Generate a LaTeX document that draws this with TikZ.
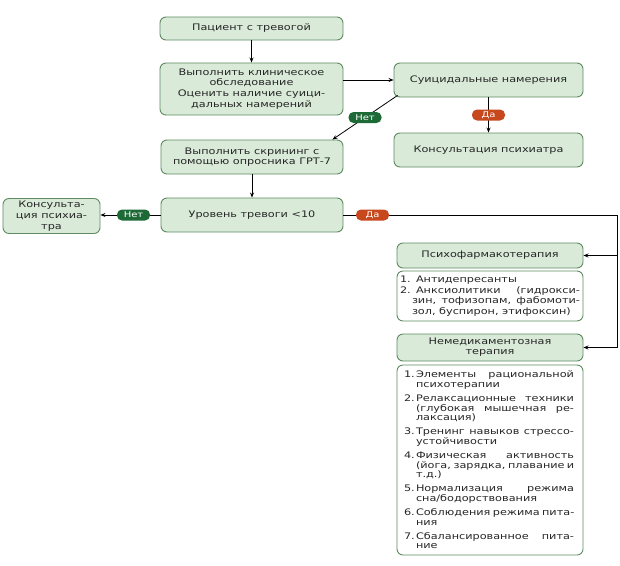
\documentclass[tikz,border=0pt]{standalone}
\usepackage{fontspec}
\setmainfont{DejaVu Sans}[FakeStretch=1.25]
\usetikzlibrary{arrows.meta,calc}
\definecolor{boxfill}{HTML}{D9EAD9}
\definecolor{boxline}{HTML}{5E8C60}
\definecolor{netgreen}{HTML}{1D6A36}
\definecolor{daorange}{HTML}{C8481E}
\definecolor{txt}{HTML}{262626}
\newcommand\NumL[5]{\makebox[#1][l]{#2}\makebox[#3][#4]{\spaceskip=0pt\xspaceskip=0pt #5}}
\begin{document}
\begin{tikzpicture}[x=1pt,y=-1pt,
  gbox/.style={draw=boxline,fill=boxfill,line width=0.9pt,rounded corners=6pt,
    align=center,text=txt,font=\fontsize{9}{10.2}\selectfont,inner sep=2pt},
  lbox/.style={draw=boxline,fill=white,line width=0.9pt,rounded corners=6pt,
    align=left,text=txt,inner ysep=2pt},
  pill/.style={rounded corners=5pt,text=white,font=\fontsize{8}{8}\selectfont,
    minimum width=33pt,minimum height=11pt,inner sep=1pt},
  net/.style={pill,fill=netgreen},
  da/.style={pill,fill=daorange},
  arr/.style={-{Stealth[length=5pt,width=4pt]},line width=0.8pt,black},
  ln/.style={line width=0.8pt,black}]
\useasboundingbox (0,0) rectangle (620,565);
\fill[white] (0,0) rectangle (620,565);

\node[gbox,minimum width=183pt,minimum height=23pt] (p) at (251.5,28.5) {Пациент с тревогой};
\node[gbox,minimum width=183pt,minimum height=52pt] (exam) at (251.5,89)
  {Выполнить клиническое\\обследование\\[1pt]Оценить наличие суици-\\дальных намерений};
\node[gbox,minimum width=189pt,minimum height=34pt] (sui) at (488.5,80) {Суицидальные намерения};
\node[gbox,minimum width=189pt,minimum height=34pt] (cons1) at (488.5,150) {Консультация психиатра};
\node[gbox,minimum width=182pt,minimum height=34pt] (scr) at (252,157)
  {Выполнить скрининг с\\помощью опросника ГРТ-7};
\node[gbox,minimum width=182pt,minimum height=34pt] (lvl) at (252,215) {Уровень тревоги <10};
\node[gbox,minimum width=97pt,minimum height=34pt,font=\fontsize{9}{11.3}\selectfont] (cons2) at (51.5,216)
  {Консульта-\\ция психиа-\\тра};
\node[gbox,minimum width=186pt,minimum height=25pt] (pf) at (490,255.5) {Психофармакотерапия};
\node[lbox,minimum height=50pt,text width=180pt,inner xsep=3pt,
  font=\fontsize{9}{10.2}\selectfont] (l1) at (490,296)
  {\NumL{16pt}{1.}{165pt}{l}{Антидепресанты}\\[1pt]
   \NumL{16pt}{2.}{164pt}{s}{Анксиолитики (гидрокси-}\\
   \NumL{12pt}{}{168pt}{s}{зин, тофизопам, фабомоти-}\\
   \NumL{12pt}{}{168pt}{l}{зол, буспирон, этифоксин)}};
\node[gbox,minimum width=186pt,minimum height=27pt] (nm) at (490,347.5)
  {Немедикаментозная\\терапия};
\node[lbox,minimum height=190pt,text width=172pt,inner xsep=7pt,
  font=\fontsize{9}{9.4}\selectfont] (l2) at (490,460)
  {\NumL{12pt}{1.}{158pt}{s}{Элементы рациональной}\\
   \NumL{12pt}{}{158pt}{l}{психотерапии}\\[5pt]
   \NumL{12pt}{2.}{158pt}{s}{Релаксационные техники}\\
   \NumL{12pt}{}{158pt}{s}{(глубокая мышечная ре-}\\
   \NumL{12pt}{}{158pt}{l}{лаксация)}\\[5pt]
   \NumL{12pt}{3.}{158pt}{s}{Тренинг навыков стрессо-}\\
   \NumL{12pt}{}{158pt}{l}{устойчивости}\\[5pt]
   \NumL{12pt}{4.}{158pt}{s}{Физическая активность}\\
   \NumL{12pt}{}{158pt}{s}{(йога, зарядка, плавание и}\\
   \NumL{12pt}{}{158pt}{l}{т.д.)}\\[5pt]
   \NumL{12pt}{5.}{158pt}{s}{Нормализация режима}\\
   \NumL{12pt}{}{158pt}{l}{сна/бодорствования}\\[5pt]
   \NumL{12pt}{6.}{158pt}{s}{Соблюдения режима пита-}\\
   \NumL{12pt}{}{158pt}{l}{ния}\\[5pt]
   \NumL{12pt}{7.}{158pt}{s}{Сбалансированное пита-}\\
   \NumL{12pt}{}{158pt}{l}{ние}};

% connectors
\draw[arr] (p.south) -- (exam.north);
\draw[arr] (exam.east|-sui.west) -- (sui.west);
\draw[arr] (sui.south) -- node[da]{Да} (cons1.north);
\draw[arr] ($(sui.south west)+(4,-2)$) -- node[net,pos=0.5]{Нет} ($(scr.north east)+(-11,0)$);
\draw[arr] (scr.south) -- (lvl.north);
\draw[arr] (lvl.west) -- node[net,pos=0.45]{Нет} (cons2.east|-lvl.west);
\coordinate (c1) at ($(lvl.east)+(274,0)$);
\draw[ln] (lvl.east) -- node[da,pos=0.106]{Да} (c1) -- (c1|-nm.east);
\draw[arr] (c1|-pf.east) -- (pf.east);
\draw[arr] (c1|-nm.east) -- (nm.east);
\end{tikzpicture}
\end{document}
